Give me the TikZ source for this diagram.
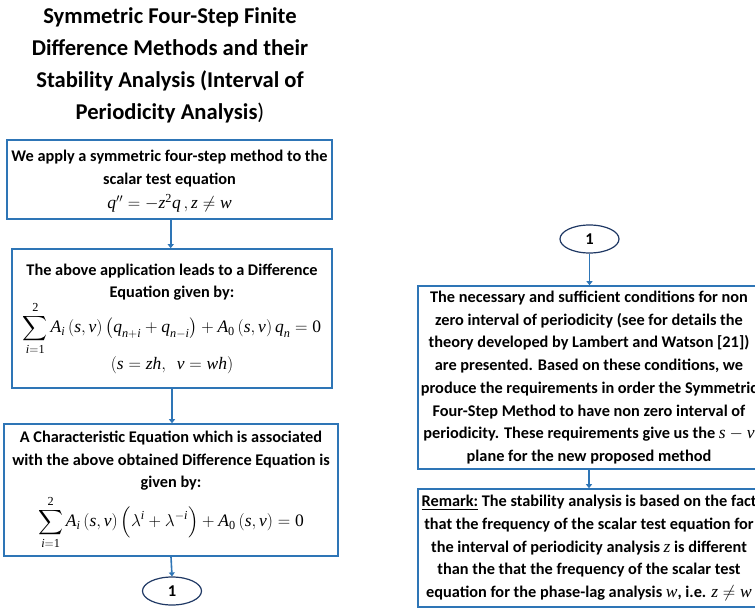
\documentclass[tikz,border=0pt]{standalone}
\usepackage{amsmath}
\usepackage[no-math]{fontspec}
\setmainfont{Carlito}
\newfontfamily\timesfam{Liberation Serif}
\usetikzlibrary{arrows.meta,shapes.geometric}
\definecolor{boxblue}{HTML}{2E75B6}
\definecolor{ovalnavy}{HTML}{1F3864}
% Times-style italic variables and upright digits inside formulas
\newcommand{\tvar}[1]{\text{\timesfam\mdseries\itshape #1}}
\newcommand{\tnum}[1]{\text{\timesfam\mdseries\upshape #1}}
\newcommand{\mathsz}{\fontsize{17.5}{22.7}\selectfont}
\tikzset{
  flowbox/.style={draw=boxblue, line width=1.6pt, align=center,
    font=\fontsize{16.3}{22.7}\selectfont\bfseries, inner sep=0pt},
  link/.style={draw=boxblue, line width=1.6pt,
    -{Triangle[length=4pt,width=6pt]}},
  oval/.style={ellipse, draw=ovalnavy, line width=1.2pt, minimum width=59pt,
    minimum height=28pt, inner sep=0pt, font=\fontsize{16.5}{18}\selectfont\bfseries},
  heading/.style={align=center, font=\fontsize{22.6}{32}\selectfont\bfseries}
}
\begin{document}
\begin{tikzpicture}[x=1pt,y=-1pt]
\useasboundingbox (0,0) rectangle (755,610);
\clip (0,0) rectangle (755,610);

% title
\node[heading] (title) at (170,65) {Symmetric Four-Step Finite\\
  Difference Methods and their\\
  Stability Analysis (Interval of\\
  Periodicity Analysis{\mdseries )}};

% left column
\node[flowbox, minimum width=325pt, minimum height=79pt] (apply) at (169.5,179.5)
  {\rule{0pt}{15pt}We apply a symmetric four-step method to the\\
   scalar test equation\\[1pt]
   {\mathsz $\tvar{q}''=-\tvar{z}^{\tnum{2}}\tvar{q}\,,\tvar{z}\neq\tvar{w}$}};

\node[flowbox, minimum width=320pt, minimum height=139pt] (diffeq) at (172,318.5)
  {The above application leads to a Difference\\
   Equation given by:\\
   {\mathsz $\displaystyle\sum_{\tvar{i}=\tnum{1}}^{\tnum{2}}\tvar{A}_{\tvar{i}}\left(\tvar{s},\tvar{v}\right)\bigl(\tvar{q}_{\tvar{n}+\tvar{i}}+\tvar{q}_{\tvar{n}-\tvar{i}}\bigr)+\tvar{A}_{\tnum{0}}\left(\tvar{s},\tvar{v}\right)\tvar{q}_{\tvar{n}}=\tnum{0}$}\\
   {\mathsz $\left(\tvar{s}=\tvar{zh},\ \ \tvar{v}=\tvar{wh}\right)$}};

\node[flowbox, minimum width=334pt, minimum height=132pt] (chareq) at (171,490)
  {A Characteristic Equation which is associated\\
   with the above obtained Difference Equation is\\
   given by:\\[4pt]
   {\mathsz $\displaystyle\sum_{\tvar{i}=\tnum{1}}^{\tnum{2}}\tvar{A}_{\tvar{i}}\left(\tvar{s},\tvar{v}\right)\Bigl(\lambda^{\tvar{i}}+\lambda^{-\tvar{i}}\Bigr)+\tvar{A}_{\tnum{0}}\left(\tvar{s},\tvar{v}\right)=\tnum{0}$}};

\node[oval] (connA) at (172,591) {1};

% right column
\node[oval] (connB) at (589.5,239) {1};

\node[flowbox, minimum width=342pt, minimum height=183pt] (cond) at (589,377.5)
  {The necessary and sufficient conditions for non\\
   zero interval of periodicity (see for details the\\
   theory developed by Lambert and Watson [21])\\
   are presented. Based on these conditions, we\\
   produce the requirements in order the Symmetric\\
   Four-Step Method to have non zero interval of\\
   periodicity. These requirements give us the {\mathsz $\tvar{s}-\tvar{v}$}\\
   plane for the new proposed method};

\node[flowbox, minimum width=342pt, minimum height=118pt] (remark) at (589,548)
  {\underline{Remark:} The stability analysis is based on the fact\\
   that the frequency of the scalar test equation for\\
   the interval of periodicity analysis {\mathsz $\tvar{z}$} is different\\
   than the that the frequency of the scalar test\\
   equation for the phase-lag analysis {\mathsz $\tvar{w}$}, i.e. {\mathsz $\tvar{z}\neq\tvar{w}$}};

% connectors
\draw[link] (170.7,0 |- apply.south) -- (170.7,0 |- diffeq.north);
\draw[link] (diffeq.south) -- (diffeq.south |- chareq.north);
\draw[link] (chareq.south) -- (connA.north);
\draw[link] (connB.south) -- (connB.south |- cond.north);
\draw[link] (cond.south) -- (remark.north);
\end{tikzpicture}
\end{document}
